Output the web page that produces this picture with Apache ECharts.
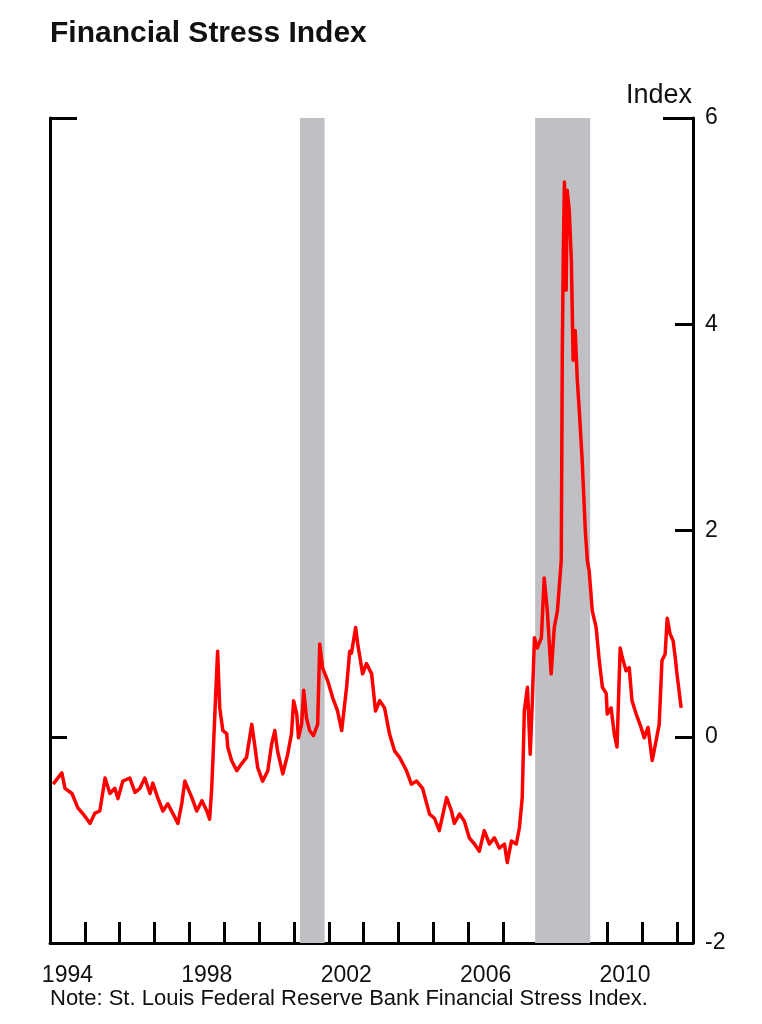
<!DOCTYPE html>
<html>
<head>
<meta charset="utf-8">
<script src="https://cdn.jsdelivr.net/npm/echarts@6/dist/echarts.min.js"></script>
<style>
html,body{margin:0;padding:0;background:#fff;}
#c{width:762px;height:1024px;}
</style>
</head>
<body>
<div id="c"></div>
<script>
// ---- data ----
const titleText = 'Financial Stress Index';
const unitText = 'Index';
const noteText = 'Note: St. Louis Federal Reserve Bank Financial Stress Index.';
const yearLabels = [1994, 1998, 2002, 2006, 2010];
const yTicks = [-2, 0, 2, 4, 6];
const recessions = [[2001.17, 2001.88], [2007.92, 2009.5]];

const fsiYears = [
1994.09,1994.34,1994.43,1994.63,1994.80,1995.00,1995.15,1995.29,1995.43,1995.58,
1995.72,1995.86,1995.95,1996.09,1996.29,1996.44,1996.58,1996.72,1996.87,1996.95,
1997.09,1997.24,1997.38,1997.52,1997.67,1997.78,1997.87,1998.07,1998.21,1998.36,
1998.50,1998.58,1998.64,1998.73,1998.81,1998.87,1998.96,1999.07,1999.10,1999.21,
1999.36,1999.50,1999.64,1999.79,1999.87,1999.96,2000.10,2000.25,2000.36,2000.45,
2000.53,2000.68,2000.82,2000.93,2000.99,2001.08,2001.13,2001.22,2001.28,2001.36,
2001.45,2001.56,2001.68,2001.74,2001.82,2001.97,2002.11,2002.25,2002.37,2002.51,
2002.60,2002.65,2002.77,2002.83,2002.97,2003.08,2003.23,2003.34,2003.46,2003.60,
2003.74,2003.89,2004.03,2004.23,2004.37,2004.52,2004.69,2004.89,2005.03,2005.17,
2005.38,2005.52,2005.60,2005.75,2005.89,2006.03,2006.18,2006.32,2006.46,2006.61,
2006.75,2006.89,2007.04,2007.12,2007.24,2007.38,2007.47,2007.55,2007.61,2007.70,
2007.78,2007.84,2007.90,2007.98,2008.10,2008.18,2008.27,2008.38,2008.47,2008.56,
2008.61,2008.67,2008.70,2008.73,2008.76,2008.81,2008.84,2008.90,2008.96,2009.01,
2009.07,2009.13,2009.19,2009.27,2009.36,2009.42,2009.47,2009.56,2009.67,2009.76,
2009.85,2009.96,2009.99,2010.10,2010.19,2010.27,2010.36,2010.42,2010.53,2010.62,
2010.70,2010.82,2010.96,2011.05,2011.16,2011.28,2011.39,2011.48,2011.56,2011.65,
2011.71,2011.79,2011.88,2011.94,2011.99,2012.11
];
const fsiValues = [
-0.46,-0.35,-0.50,-0.55,-0.69,-0.77,-0.84,-0.74,-0.72,-0.40,
-0.55,-0.50,-0.60,-0.43,-0.40,-0.54,-0.50,-0.40,-0.55,-0.45,
-0.59,-0.72,-0.65,-0.74,-0.84,-0.65,-0.43,-0.59,-0.72,-0.62,
-0.72,-0.80,-0.50,0.22,0.83,0.28,0.06,0.03,-0.10,-0.23,
-0.33,-0.26,-0.20,0.12,-0.07,-0.30,-0.43,-0.33,-0.07,0.06,
-0.14,-0.36,-0.17,0.03,0.35,0.22,-0.01,0.12,0.45,0.18,
0.06,0.01,0.12,0.90,0.67,0.54,0.38,0.25,0.06,0.48,
0.83,0.81,1.06,0.90,0.61,0.71,0.61,0.25,0.35,0.28,
0.03,-0.14,-0.20,-0.33,-0.46,-0.43,-0.50,-0.75,-0.79,-0.91,
-0.59,-0.72,-0.84,-0.75,-0.82,-0.98,-1.04,-1.11,-0.91,-1.04,
-0.98,-1.08,-1.04,-1.22,-1.01,-1.04,-0.88,-0.59,0.25,0.48,
-0.17,0.35,0.96,0.86,0.96,1.54,1.22,0.61,1.06,1.22,
1.22,1.71,3.75,4.72,5.38,4.33,5.30,5.10,4.62,3.65,
3.94,3.46,3.15,2.68,2.00,1.70,1.61,1.22,1.06,0.74,
0.48,0.42,0.22,0.28,0.03,-0.10,0.86,0.77,0.64,0.67,
0.35,0.22,0.09,-0.01,0.09,-0.23,-0.04,0.12,0.74,0.80,
1.15,1.00,0.93,0.77,0.61,0.28
];

// ---- chart ----
const FONT = '"Liberation Sans", Arial, Helvetica, sans-serif';
const TXT = '#111111';
const AX = '#000000';
const seriesData = fsiYears.map((y, i) => [y, fsiValues[i]]);

const chart = echarts.init(document.getElementById('c'), null, {renderer: 'canvas'});
chart.setOption({
  animation: false,
  backgroundColor: '#ffffff',
  title: [
    {text: titleText, left: 50, top: 19, padding: 0,
     textStyle: {fontFamily: FONT, fontSize: 30, fontWeight: 'bold', color: TXT}},
    {text: unitText, right: 70, top: 82, padding: 0,
     textStyle: {fontFamily: FONT, fontSize: 27, fontWeight: 'normal', color: TXT}},
    {text: noteText, left: 50, top: 988, padding: 0,
     textStyle: {fontFamily: FONT, fontSize: 22, fontWeight: 'normal', color: TXT}}
  ],
  grid: {left: 50, right: 69, top: 118, bottom: 81, containLabel: false, outerBoundsMode: 'none'},
  xAxis: [
    {type: 'value', min: 1994, max: 2012.45, interval: 1, position: 'bottom',
     axisLine: {show: true, onZero: false, lineStyle: {color: AX, width: 3}},
     axisTick: {show: true, inside: true, length: 21, lineStyle: {color: AX, width: 3}},
     axisLabel: {show: false}, splitLine: {show: false}},
    {type: 'value', min: 1993.5, max: 2011.95, interval: 0.5, position: 'bottom',
     axisLine: {show: false, onZero: false}, axisTick: {show: false}, splitLine: {show: false},
     axisLabel: {show: true, margin: 21, fontFamily: FONT, fontSize: 23, color: TXT,
       hideOverlap: false,
       formatter: v => yearLabels.includes(v) ? String(v) : ''}}
  ],
  yAxis: [
    {type: 'value', position: 'right', min: yTicks[0], max: yTicks[yTicks.length - 1], interval: 2,
     axisLine: {show: true, onZero: false, lineStyle: {color: AX, width: 3}},
     axisTick: {show: true, inside: true, length: 18, customValues: [0, 2, 4], lineStyle: {color: AX, width: 3}},
     axisLabel: {show: true, margin: 12, align: 'left', fontFamily: FONT, fontSize: 23, color: TXT,
       customValues: yTicks},
     splitLine: {show: false}},
    {type: 'value', position: 'right', min: -2, max: 6, interval: 2,
     axisLine: {show: false, onZero: false},
     axisTick: {show: true, inside: true, length: 30, customValues: [6], lineStyle: {color: AX, width: 3}},
     axisLabel: {show: false}, splitLine: {show: false}},
    {type: 'value', position: 'left', min: -2, max: 6, interval: 2,
     axisLine: {show: true, onZero: false, lineStyle: {color: AX, width: 3}},
     axisTick: {show: true, inside: true, length: 17, customValues: [0], lineStyle: {color: AX, width: 3}},
     axisLabel: {show: false}, splitLine: {show: false}},
    {type: 'value', position: 'left', min: -2, max: 6, interval: 2,
     axisLine: {show: false, onZero: false},
     axisTick: {show: true, inside: true, length: 27, customValues: [6], lineStyle: {color: AX, width: 3}},
     axisLabel: {show: false}, splitLine: {show: false}}
  ],
  series: [
    {type: 'line', xAxisIndex: 0, yAxisIndex: 0, data: seriesData,
     showSymbol: false, smooth: false,
     lineStyle: {color: '#ff0000', width: 3.5, join: 'round'},
     itemStyle: {color: '#ff0000'},
     markArea: {silent: true,
       itemStyle: {color: '#c0c0c4', opacity: 1},
       data: recessions.map(r => [{xAxis: r[0]}, {xAxis: r[1]}])}}
  ]
});
</script>
</body>
</html>
